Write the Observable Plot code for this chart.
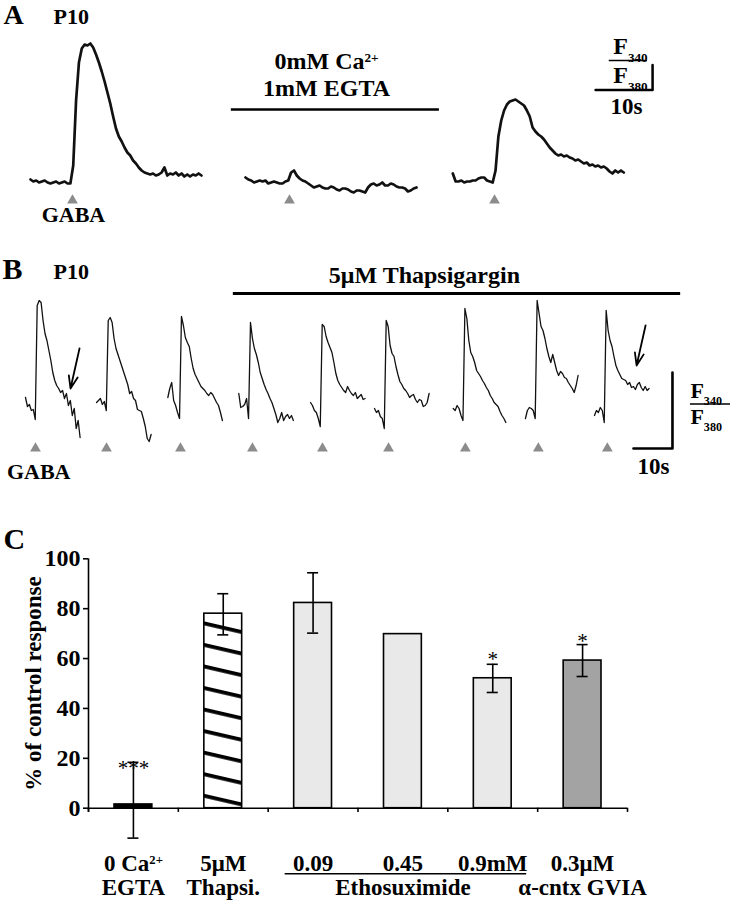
<!DOCTYPE html>
<html><head><meta charset="utf-8">
<script src="https://cdn.jsdelivr.net/npm/d3@7"></script>
<script src="https://cdn.jsdelivr.net/npm/@observablehq/plot@0.6"></script>
<style>
body{margin:0;background:#fff;}
#fig{width:730px;}
#fig svg{display:block;}
</style></head><body><div id="fig"></div>
<script>
// ================= DATA =================
// Panel A: Fura-2 ratio traces (ΔF340/F380, arbitrary units), sampled every 0.5 s
const dtA = 0.5;
const traceA1 = [0.02,0,0.01,-0.01,0,0.01,-0.01,-0.02,-0.01,0,-0.02,-0.01,0,-0.02,-0.02,
  0.16,0.81,1.19,1.33,1.37,1.36,1.38,1.34,1.27,1.19,
  1.10,1.00,0.89,0.78,0.65,0.53,0.45,0.40,0.34,0.29,
  0.26,0.21,0.18,0.14,0.11,0.09,0.08,0.07,0.08,0.06,
  0.07,0.09,0.14,0.06,0.08,0.07,0.09,0.06,0.08,0.05,
  0.07,0.05,0.07,0.06,0.08,0.06];
const traceA2 = [0.04,0.02,0.01,-0.01,0,0.01,0,0.01,-0.02,-0.01,
  0,-0.01,-0.02,-0.02,0,0.01,0.09,0.11,0.06,0.03,
  0.01,0,-0.02,-0.04,-0.06,-0.05,-0.04,-0.06,-0.07,-0.07,
  -0.05,-0.06,-0.08,-0.09,-0.07,-0.07,-0.08,-0.10,-0.11,-0.09,
  -0.09,-0.10,-0.11,-0.06,-0.03,-0.02,-0.04,-0.03,-0.01,-0.04,
  -0.04,-0.02,-0.03,-0.05,-0.06,-0.06,-0.07,-0.10,-0.09,-0.07,-0.06];
const traceA3 = [0.08,0,0,0.01,-0.01,0,0,0.01,0.01,0.03,
  0.04,0.04,0.01,0,-0.01,0.11,0.45,0.61,0.71,0.77,
  0.80,0.81,0.82,0.80,0.78,0.76,0.71,0.65,0.54,0.50,
  0.47,0.45,0.42,0.38,0.34,0.31,0.28,0.26,0.27,0.25,
  0.26,0.24,0.23,0.21,0.22,0.20,0.18,0.19,0.16,0.17,
  0.15,0.16,0.14,0.15,0.13,0.10,0.08,0.11,0.09,0.11,0.09];
const traceAStart = [5.26, 42.98, 79.35];   // s, figure time axis
const gabaA = [12.63, 50.7, 86.67];         // s, GABA puffs

// Panel B: nine successive GABA responses, sampled every 0.5 s
const dtB = 0.5;
const tracesB = [
  [0.23,0.14,0.16,0.10,0.11,0.01,1.15,1.20,1.18,1.00,0.87,0.80,0.70,0.60,0.48,0.40,0.35,0.32,0.28,0.30,0.22,0.27,0.15,0.20,0.05,0.12,-0.08,0.00,-0.17],
  [0.18,0.20,0.22,0.16,0.19,0.10,1.00,1.03,0.98,0.82,0.72,0.66,0.60,0.54,0.48,0.42,0.36,0.27,0.29,0.22,0.20,0.11,0.10,0.09,0.02,-0.06,-0.18,-0.21,-0.14],
  [0.23,0.32,0.38,0.20,0.15,0.08,0.02,1.04,0.95,0.83,0.78,0.74,0.62,0.52,0.46,0.42,0.38,0.34,0.32,0.30,0.27,0.25,0.28,0.26,0.22,0.18,0.15,0.08,0.00],
  [0.27,0.13,0.14,0.16,0.22,0.02,0.98,0.82,0.72,0.66,0.58,0.48,0.42,0.36,0.31,0.27,0.22,0.18,0.12,0.06,-0.02,0.02,0.08,0.00,0.04,0.06,0.02,0.05,0.00],
  [0.18,0.15,0.10,0.08,0.02,-0.06,0.96,0.94,0.84,0.78,0.73,0.68,0.58,0.47,0.40,0.36,0.33,0.30,0.28,0.34,0.30,0.27,0.25,0.28,0.22,0.24,0.26,0.21,0.22],
  [0.12,0.08,0.10,0.04,0.02,-0.08,1.00,0.94,0.75,0.67,0.64,0.54,0.46,0.39,0.36,0.32,0.30,0.27,0.23,0.25,0.26,0.21,0.18,0.21,0.20,0.14,0.15,0.18,0.27],
  [0.12,0.10,0.15,0.12,0.05,0.00,1.12,1.02,0.80,0.68,0.64,0.58,0.50,0.47,0.44,0.40,0.37,0.33,0.30,0.25,0.22,0.18,0.16,0.14,0.09,0.05,0.02,-0.02],
  [0.02,0.10,0.13,0.12,0.10,0.02,1.20,1.07,0.94,0.90,0.82,0.72,0.64,0.58,0.66,0.58,0.50,0.45,0.49,0.47,0.43,0.42,0.38,0.35,0.32,0.28,0.35,0.45],
  [0.05,0.10,0.08,0.13,0.10,-0.02,1.10,0.90,0.80,0.74,0.64,0.55,0.50,0.46,0.42,0.41,0.40,0.36,0.38,0.33,0.34,0.31,0.36,0.38,0.33,0.30,0.34,0.30,0.32]
];
const traceBStart = [6.41, 24.62, 42.9, 61.1, 79.49, 95.9, 116.08, 134.6, 152.3];
const gabaB = [8.97, 27.18, 46.15, 64.6, 82.56, 99.5, 119.2, 137.9, 155.6];

// Panel C: % of control response
const categories = ["ca", "thap", "eth009", "eth045", "eth09", "cntx"];
const labelLine1 = ["0 Ca^{2+}", "5μM", "0.09", "0.45", "0.9mM", "0.3μM"];
const labelLine2 = ["EGTA", "Thapsi.", "", "Ethosuximide", "", "α-cntx GVIA"];
const responses = [1.5, 78, 82.3, 69.8, 52.1, 59.2];
const errLow  = [-12, 69.5, 70.2, null, 46.4, 52.8];
const errHigh = [18.4, 86.0, 94.4, null, 57.7, 65.6];
const signif  = ["***", "", "", "", "*", "*"];
const signifAt = [13.5, null, null, null, 57.2, 64.4];
const barFills = ["#000000", "url(#hatch)", "#e9e9e9", "#e9e9e9", "#e9e9e9", "#a3a3a3"];

// ================= HELPERS =================
const FONT = "'Liberation Serif','Times New Roman',serif";
const baseStyle = {fontFamily: FONT, fontWeight: "bold", background: "white", color: "black", overflow: "visible"};
function richText(svg) {
  svg.querySelectorAll("text, tspan").forEach(el => {
    if (el.children.length === 0 && /[_^]\{/.test(el.textContent)) {
      const s = el.textContent.replace(/&/g, "&amp;").replace(/</g, "&lt;");
      el.innerHTML = s
        .replace(/\^\{([^}]*)\}/g, '<tspan baseline-shift="super" font-size="55%">$1</tspan>')
        .replace(/_\{([^}]*)\}/g, '<tspan baseline-shift="sub" font-size="55%">$1</tspan>');
    }
  });
}
const fig = document.getElementById("fig");

// ================= PANEL A =================
const rowsA = [traceA1, traceA2, traceA3].flatMap((vals, k) =>
  vals.map((v, i) => ({trace: k, t: traceAStart[k] + i * dtA, v})));
const svgA = Plot.plot({
  width: 730, height: 228, margin: 0,
  x: {domain: [0, 730 / 5.7], axis: null},
  y: {domain: [-0.47, 1.81], axis: null},
  style: baseStyle,
  marks: [
    Plot.line(rowsA, {x: "t", y: "v", z: "trace", stroke: "#111", strokeWidth: 2.7, strokeLinejoin: "round"}),
    Plot.dot(gabaA.map(t => ({t, v: -0.19})), {x: "t", y: "v", symbol: "triangle", r: 4, fill: "#8c8c8c"}),
    Plot.text([{s: "GABA", t: 12.8, v: -0.40}], {x: "t", y: "v", text: "s", lineAnchor: "bottom", fontSize: 22}),
    Plot.text([{s: "A", t: 0.53, v: 1.58}], {x: "t", y: "v", text: "s", textAnchor: "start", lineAnchor: "bottom", fontSize: 28}),
    Plot.text([{s: "P10", t: 9.3, v: 1.58}], {x: "t", y: "v", text: "s", textAnchor: "start", lineAnchor: "bottom", fontSize: 22}),
    Plot.text([{s: "0mM Ca^{2+}\n1mM EGTA", t: 57.2, v: 0.86}], {x: "t", y: "v", text: "s", lineAnchor: "bottom", lineHeight: 1.125, fontSize: 24}),
    Plot.ruleY([{v: 0.72, t1: 40.5, t2: 77.0}], {y: "v", x1: "t1", x2: "t2", strokeWidth: 2.5}),
    // scale bar: 10 s and 0.25 ratio units
    Plot.line([{t: 104.4, v: 0.915}, {t: 114.4, v: 0.915}, {t: 114.4, v: 1.165}], {x: "t", y: "v", strokeWidth: 2.5}),
    Plot.text([{s: "10s", t: 109.8, v: 0.68}], {x: "t", y: "v", text: "s", lineAnchor: "bottom", fontSize: 23}),
    Plot.text([{s: "F_{340}", t: 107.5, v: 1.28}, {s: "F_{380}", t: 107.5, v: 0.99}], {x: "t", y: "v", text: "s", textAnchor: "start", lineAnchor: "bottom", fontSize: 24}),
    Plot.ruleY([{v: 1.21, t1: 106.8, t2: 113.5}], {y: "v", x1: "t1", x2: "t2", strokeWidth: 1.5})
  ]
});
fig.appendChild(svgA);

// ================= PANEL B =================
const rowsB = tracesB.flatMap((vals, k) =>
  vals.map((v, i) => ({trace: k, t: traceBStart[k] + i * dtB, v})));
const svgB = Plot.plot({
  width: 730, height: 258, margin: 0,
  x: {domain: [0, 730 / 3.9], axis: null},
  y: {domain: [-0.66, 1.92], axis: null},
  style: baseStyle,
  marks: [
    Plot.line(rowsB, {x: "t", y: "v", z: "trace", stroke: "#111", strokeWidth: 1.3, strokeLinejoin: "round"}),
    Plot.dot(gabaB.map(t => ({t, v: -0.28})), {x: "t", y: "v", symbol: "triangle", r: 4, fill: "#8c8c8c"}),
    Plot.text([{s: "GABA", t: 9.8, v: -0.58}], {x: "t", y: "v", text: "s", lineAnchor: "bottom", fontSize: 22}),
    Plot.text([{s: "B", t: 0.5, v: 1.42}], {x: "t", y: "v", text: "s", textAnchor: "start", lineAnchor: "bottom", fontSize: 30}),
    Plot.text([{s: "P10", t: 13.6, v: 1.42}], {x: "t", y: "v", text: "s", textAnchor: "start", lineAnchor: "bottom", fontSize: 22}),
    Plot.text([{s: "5μM Thapsigargin", t: 108.7, v: 1.38}], {x: "t", y: "v", text: "s", lineAnchor: "bottom", fontSize: 24}),
    Plot.ruleY([{v: 1.27, t1: 59.7, t2: 174.4}], {y: "v", x1: "t1", x2: "t2", strokeWidth: 3}),
    Plot.arrow([{t1: 20.26, v1: 0.72, t2: 17.95, v2: 0.32}, {t1: 165.4, v1: 0.95, t2: 163.1, v2: 0.55}],
      {x1: "t1", y1: "v1", x2: "t2", y2: "v2", strokeWidth: 1.8, headLength: 11, headAngle: 40}),
    Plot.line([{t: 162.3, v: -0.28}, {t: 172.3, v: -0.28}, {t: 172.3, v: 0.48}], {x: "t", y: "v", strokeWidth: 2.6}),
    Plot.text([{s: "10s", t: 167.4, v: -0.53}], {x: "t", y: "v", text: "s", lineAnchor: "bottom", fontSize: 23}),
    Plot.text([{s: "F_{340}", t: 176.9, v: 0.23}, {s: "F_{380}", t: 176.9, v: -0.03}], {x: "t", y: "v", text: "s", textAnchor: "start", lineAnchor: "bottom", fontSize: 22}),
    Plot.ruleY([{v: 0.165, t1: 176.9, t2: 187.2}], {y: "v", x1: "t1", x2: "t2", strokeWidth: 1.5})
  ]
});
fig.appendChild(svgB);

// ================= PANEL C =================
const bars = categories.map((c, i) => ({c, value: responses[i], fill: barFills[i], lo: errLow[i], hi: errHigh[i],
  l1: labelLine1[i], l2: labelLine2[i], sig: signif[i], sigY: signifAt[i]}));
const errs = bars.filter(d => d.hi != null);
const sigs = bars.filter(d => d.sig);
const mL = 88, mR = 103;
const bw = (730 - mL - mR) / categories.length;
const svgC = Plot.plot({
  width: 730, height: 414,
  marginLeft: mL, marginRight: mR, marginTop: 72.3, marginBottom: 92.3,
  x: {type: "band", domain: categories, padding: 0, round: false, axis: null},
  y: {domain: [0, 100]},
  color: {type: "identity"},
  style: baseStyle,
  marks: [
    Plot.barY(bars, {x: "c", y: "value", fill: "fill", stroke: "black", strokeWidth: 1.6, insetLeft: 26, insetRight: 26}),
    Plot.ruleY([0], {strokeWidth: 1.6}),
    Plot.ruleX([categories[0]], {x: d => d, y1: -1.7, y2: 100, dx: -bw / 2, strokeWidth: 1.6}),
    Plot.ruleX(categories, {x: d => d, y1: 0, y2: -1.7, dx: -bw / 2, strokeWidth: 1.6}),
    Plot.ruleX([categories[categories.length - 1]], {x: d => d, y1: 0, y2: -1.7, dx: bw / 2, strokeWidth: 1.6}),
    Plot.axisY({ticks: [0, 20, 40, 60, 80, 100], tickSize: 5, tickPadding: 3, fontSize: 24, fontWeight: "bold", label: null, strokeWidth: 1.6}),
    Plot.ruleX(errs, {x: "c", y1: "lo", y2: "hi", strokeWidth: 1.6}),
    Plot.tickY(errs, {x: "c", y: "hi", insetLeft: 39.4, insetRight: 39.4, strokeWidth: 1.6}),
    Plot.tickY(errs, {x: "c", y: "lo", insetLeft: 39.4, insetRight: 39.4, strokeWidth: 1.6}),
    Plot.text(sigs, {x: "c", y: "sigY", text: "sig", lineAnchor: "bottom", fontSize: 21, fontWeight: "normal"}),
    Plot.text(bars, {x: "c", y: () => -25, text: "l1", lineAnchor: "bottom", fontSize: 23}),
    Plot.text(bars, {x: "c", y: () => -35, text: "l2", lineAnchor: "bottom", fontSize: 23}),
    Plot.ruleY([{y: -26.3, a: categories[2], b: categories[4]}], {y: "y", x1: "a", x2: "b", insetLeft: 17, insetRight: 11, strokeWidth: 1.5}),
    Plot.text([{s: "% of control response"}], {frameAnchor: "left", textAnchor: "middle", dx: -55, rotate: -90, text: "s", fontSize: 23}),
    Plot.text([{s: "C"}], {frameAnchor: "top-left", dx: -85, dy: -10, text: "s", textAnchor: "start", lineAnchor: "bottom", fontSize: 30})
  ]
});
d3.select(svgC).insert("defs", ":first-child").html(
  '<pattern id="hatch" patternUnits="userSpaceOnUse" width="21" height="21" patternTransform="rotate(13)">' +
  '<rect width="21" height="21" fill="white"/><rect y="2" width="21" height="3.8" fill="black"/></pattern>');
fig.appendChild(svgC);

[svgA, svgB, svgC].forEach(richText);
</script></body></html>
